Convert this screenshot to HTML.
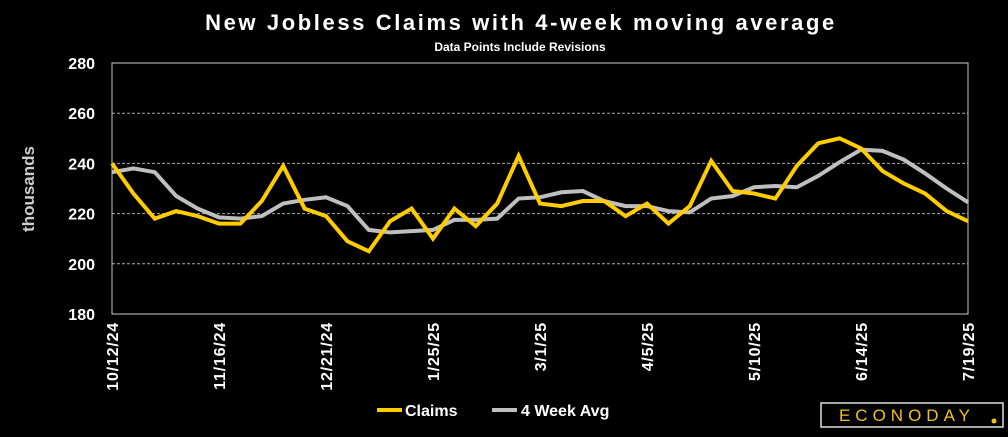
<!DOCTYPE html>
<html><head><meta charset="utf-8"><style>
body{margin:0;background:#000;width:1008px;height:432px;overflow:hidden;font-family:"Liberation Sans",sans-serif}
</style></head><body>
<svg width="1008" height="432" viewBox="0 0 1008 432">
<text x="521" y="30" fill="#fff" font-size="22" font-weight="bold" text-anchor="middle" letter-spacing="2.6">New Jobless Claims with 4-week moving average</text>
<text x="520" y="51" fill="#fff" font-size="12" font-weight="bold" text-anchor="middle">Data Points Include Revisions</text>
<text transform="translate(34,189) rotate(-90)" fill="#ccc" font-size="17" font-weight="bold" text-anchor="middle">thousands</text>
<g id="grid"></g><g id="yt"></g><g id="xt"></g><g id="lines"></g>
<g>
<line x1="377" y1="410" x2="402" y2="410" stroke="#ffcc00" stroke-width="4"/>
<text x="405" y="416" fill="#fff" font-size="16" font-weight="bold">Claims</text>
<line x1="492" y1="410" x2="517" y2="410" stroke="#bfbfbf" stroke-width="4"/>
<text x="521" y="416" fill="#fff" font-size="16" font-weight="bold">4 Week Avg</text>
</g>
<g>
<rect x="821" y="403" width="182" height="24" fill="#000" stroke="#ddd" stroke-width="1.5"/>
<text x="907" y="421" fill="#f0c020" font-size="17" text-anchor="middle" letter-spacing="5">ECONODAY</text>
<circle cx="994" cy="421" r="2.5" fill="#f0c020"/>
</g>
</svg>
<script>
const categories=["10/12/24","10/19/24","10/26/24","11/2/24","11/9/24","11/16/24","11/23/24","11/30/24","12/7/24","12/14/24","12/21/24","12/28/24","1/4/25","1/11/25","1/18/25","1/25/25","2/1/25","2/8/25","2/15/25","2/22/25","3/1/25","3/8/25","3/15/25","3/22/25","3/29/25","4/5/25","4/12/25","4/19/25","4/26/25","5/3/25","5/10/25","5/17/25","5/24/25","5/31/25","6/7/25","6/14/25","6/21/25","6/28/25","7/5/25","7/12/25","7/19/25"];
const claims=[240,228,218,221,219,216,216,225,239,222,219,209,205,217,222,210,222,215,224,243,224,223,225,225,219,224,216,223,241,229,228,226,239,248,250,246,237,232,228,221,217];
const avg4=[236.5,238,236.5,227,222,218.5,218,219,224,225.5,226.5,223,213.5,212.5,213,213.5,217.5,217.5,218,226,226.5,228.5,229,225,223,223,221,220.5,226,227,230.5,231,230.5,235,240.5,245.5,245,241.5,236,230,224.5];
const yTicks=[180,200,220,240,260,280];
const X0=112,X1=968,Y0=314,Y1=63;
const xs=i=>X0+(X1-X0)*i/(categories.length-1);
const ys=v=>Y0-(v-180)/100*(Y0-Y1);
const NS="http://www.w3.org/2000/svg";
function mk(t,a,p){const e=document.createElementNS(NS,t);for(const k in a)e.setAttribute(k,a[k]);p.appendChild(e);return e;}
const grid=document.getElementById('grid'),yt=document.getElementById('yt'),xt=document.getElementById('xt'),lines=document.getElementById('lines');
yTicks.forEach(v=>{
 if(v>180&&v<280){const l=mk('line',{x1:X0,x2:X1,y1:ys(v),y2:ys(v),stroke:'#aaa','stroke-dasharray':'3,2','stroke-width':1},grid);
 
 }
 const t=mk('text',{x:95,y:ys(v)+6,fill:'#fff','font-size':16,'font-weight':'bold','text-anchor':'end'},yt);t.textContent=v;
 
 
});
const fr=mk('rect',{x:X0,y:Y1,width:X1-X0,height:Y0-Y1,fill:'none',stroke:'#ccc','stroke-width':1},grid);


categories.forEach((c,i)=>{if(i%5)return;
 const t=mk('text',{transform:`translate(${xs(i)+6},${322}) rotate(-90)`,fill:'#fff','font-size':16,'font-weight':'bold','text-anchor':'end','letter-spacing':0.8},xt);t.textContent=c;
 
 
});
function series(d,col,name){const p=mk('polyline',{points:d.map((v,i)=>xs(i)+','+ys(v)).join(' '),fill:'none',stroke:col,'stroke-width':4,'stroke-linejoin':'miter'},lines);
 
 }
series(avg4,'#bfbfbf','avg4-line');
series(claims,'#ffcc00','claims-line');
</script>
</body></html>
